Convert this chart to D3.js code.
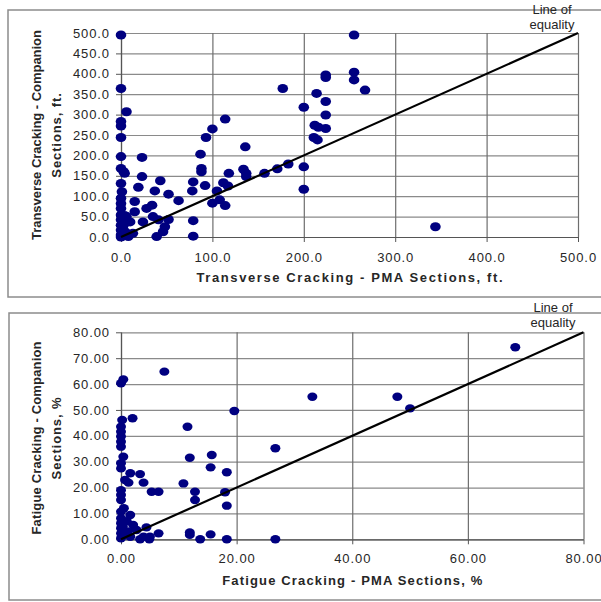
<!DOCTYPE html>
<html>
<head>
<meta charset="utf-8">
<script src="https://cdn.jsdelivr.net/npm/d3@7/dist/d3.min.js"></script>
<style>
  body { margin: 0; background: #fff; }
  text { font-family: "Liberation Sans", Arial, sans-serif; }
</style>
</head>
<body>
<svg id="chart" width="601" height="602"></svg>
<script>
// Transverse cracking (ft.): PMA section vs. companion section
const transversePMA = [
  0, 0, 6, 0, 0, 0, 0, 0, 4, 3,
  0, 1, 0, 0, 0, 0, 0, 0, 0, 0,
  0, 6, 10, 5, 8, 13, 2, 3, 4, 15,
  15, 19, 23, 23, 24, 28, 34, 35, 37, 43,
  41, 52, 52, 48, 46, 39, 63, 79, 78, 79,
  79, 87, 88, 88, 92, 93, 100, 114, 100, 108,
  114, 105, 112, 117, 118, 136, 134, 137, 137, 157,
  171, 183, 177, 200, 200, 200, 214, 212, 216, 211,
  215, 224, 224, 224, 224, 224, 255, 255, 255, 267,
  344
];
const transverseCompanion = [
  495, 364, 307, 283, 272, 244, 197, 168, 156, 160,
  131, 111, 95, 82, 70, 54, 42, 29, 17, 5,
  0, 50, 37, 12, 1, 9, 20, 30, 53, 62,
  87, 122, 195, 148, 37, 70, 78, 50, 113, 138,
  42, 43, 105, 25, 13, 1, 89, 135, 113, 40,
  2, 203, 168, 160, 126, 244, 265, 289, 83, 91,
  77, 113, 133, 125, 156, 221, 166, 156, 148, 156,
  167, 179, 364, 318, 172, 117, 352, 274, 269, 244,
  238, 397, 391, 332, 299, 266, 495, 404, 385, 360,
  25
];
const transverseXTicks = [0, 100, 200, 300, 400, 500];
const transverseYTicks = [0, 50, 100, 150, 200, 250, 300, 350, 400, 450, 500];

// Fatigue cracking (%): PMA section vs. companion section
const fatiguePMA = [
  0, 0.4, 7.5, 19.6, 0.2, 2.0, 0, 0, 0, 0,
  0, 11.5, 0.4, 0, 0, 1.6, 3.3, 0.7, 1.3, 3.9,
  10.8, 0, 5.3, 6.5, 0, 0, 12.8, 12.8, 18.0, 18.3,
  11.9, 15.7, 15.5, 18.3, 26.7, 33.1, 47.8, 50.0, 68.2, 0,
  1.6, 0, 0, 0, 0, 0, 2.1, 2.7, 4.4, 1.6,
  3.9, 5.0, 6.5, 1.2, 3.3, 4.9, 11.9, 11.9, 13.7, 15.5,
  18.3, 26.7, 0.5, 1.0, 0.8, 0.3
];
const fatigueCompanion = [
  60.3, 61.8, 64.8, 49.6, 46.1, 46.8, 43.5, 41.6, 39.7, 37.7,
  35.8, 43.5, 31.9, 29.4, 27.4, 25.5, 25.2, 22.9, 21.9, 21.9,
  21.6, 19.0, 18.4, 18.4, 17.1, 15.2, 18.4, 15.2, 18.2, 13.0,
  31.5, 32.6, 27.8, 25.9, 35.2, 55.1, 55.1, 50.6, 74.2, 10.7,
  9.4, 8.1, 6.2, 4.3, 2.3, 0.4, 5.5, 3.6, 4.6, 1.0,
  1.0, 1.0, 2.3, 3.0, 0, 0, 2.6, 1.7, 0, 1.9,
  0, 0, 12.0, 7.0, 2.0, 5.0
];
const fatigueXTicks = [0, 20, 40, 60, 80];
const fatigueYTicks = [0, 10, 20, 30, 40, 50, 60, 70, 80];

const panels = [
  {
    xs: transversePMA, ys: transverseCompanion,
    xTicks: transverseXTicks, yTicks: transverseYTicks,
    max: 500, fmt: d3.format(".1f"),
    frame: { x: 8, y: 10, w: 600, h: 287 },
    plot: { left: 121, right: 578, top: 33, bottom: 237 },
    xTitle: "Transverse Cracking - PMA Sections, ft.",
    yTitle: ["Transverse Cracking - Companion", "Sections, ft."],
    xTickBaseline: 262, xTitleBaseline: 282, xTitleLen: 306,
    yTitleCenter: 135, yTitleLen: 210,
    noteX: 552, noteBaselines: [14, 29],
    dot: { rx: 5.3, ry: 4.5 }
  },
  {
    xs: fatiguePMA, ys: fatigueCompanion,
    xTicks: fatigueXTicks, yTicks: fatigueYTicks,
    max: 80, fmt: d3.format(".2f"),
    frame: { x: 9, y: 313, w: 600, h: 287 },
    plot: { left: 121, right: 583.5, top: 332.3, bottom: 539.3 },
    xTitle: "Fatigue Cracking - PMA Sections, %",
    yTitle: ["Fatigue Cracking - Companion", "Sections, %"],
    xTickBaseline: 563, xTitleBaseline: 585, xTitleLen: 260,
    yTitleCenter: 438, yTitleLen: 193,
    noteX: 553, noteBaselines: [312, 327],
    dot: { rx: 5, ry: 4.2 }
  }
];

const svg = d3.select("#chart");
const textColor = "#262626";

panels.forEach(p => {
  const g = svg.append("g");

  // outer chart frame
  g.append("rect")
    .attr("x", p.frame.x).attr("y", p.frame.y)
    .attr("width", p.frame.w).attr("height", p.frame.h)
    .attr("fill", "none").attr("stroke", "#8c8c8c").attr("stroke-width", 1.5);

  const x = d3.scaleLinear().domain([0, p.max]).range([p.plot.left, p.plot.right]);
  const y = d3.scaleLinear().domain([0, p.max]).range([p.plot.bottom, p.plot.top]);
  const w = p.plot.right - p.plot.left;
  const h = p.plot.bottom - p.plot.top;

  // horizontal gridlines
  g.append("g")
    .attr("transform", `translate(${p.plot.left},0)`)
    .call(d3.axisLeft(y).tickValues(p.yTicks).tickSize(-w).tickFormat(""))
    .call(s => s.select(".domain").remove())
    .call(s => s.selectAll("line").attr("stroke", "#8a8a8a").attr("stroke-width", 1.2));

  // vertical gridlines
  g.append("g")
    .attr("transform", `translate(0,${p.plot.bottom})`)
    .call(d3.axisBottom(x).tickValues(p.xTicks).tickSize(-h).tickFormat(""))
    .call(s => s.select(".domain").remove())
    .call(s => s.selectAll("line").attr("stroke", "#6e6e6e").attr("stroke-width", 1.2));

  // y axis
  const yAxis = g.append("g")
    .attr("transform", `translate(${p.plot.left},0)`)
    .call(d3.axisLeft(y).tickValues(p.yTicks).tickSize(5).tickSizeOuter(0).tickPadding(6).tickFormat(p.fmt));
  yAxis.select(".domain").attr("stroke", "#555").attr("stroke-width", 1.2);
  yAxis.selectAll("line").attr("stroke", "#555");
  yAxis.selectAll("text")
    .attr("fill", textColor).style("font-size", "13px").style("letter-spacing", "0.9px");

  // x axis
  const xAxis = g.append("g")
    .attr("transform", `translate(0,${p.plot.bottom})`)
    .call(d3.axisBottom(x).tickValues(p.xTicks).tickSize(5).tickSizeOuter(0).tickFormat(p.fmt));
  xAxis.select(".domain").attr("stroke", "#555").attr("stroke-width", 1.2);
  xAxis.selectAll("line").attr("stroke", "#555");
  xAxis.selectAll("text")
    .attr("y", p.xTickBaseline - p.plot.bottom).attr("dy", null)
    .attr("fill", textColor).style("font-size", "13px").style("letter-spacing", "0.9px");

  // data points
  g.append("g").selectAll("ellipse")
    .data(d3.range(p.xs.length))
    .join("ellipse")
    .attr("cx", i => x(p.xs[i]))
    .attr("cy", i => y(p.ys[i]))
    .attr("rx", p.dot.rx).attr("ry", p.dot.ry)
    .attr("fill", "#000080");

  // line of equality
  g.append("line")
    .attr("x1", x(0)).attr("y1", y(0))
    .attr("x2", x(p.max)).attr("y2", y(p.max))
    .attr("stroke", "#000").attr("stroke-width", 2.2);

  g.append("g").selectAll("text")
    .data(["Line of", "equality"])
    .join("text")
    .attr("x", p.noteX)
    .attr("y", (d, i) => p.noteBaselines[i])
    .attr("text-anchor", "middle")
    .attr("fill", textColor)
    .style("font-size", "13px")
    .text(d => d);

  // x axis title
  g.append("text")
    .attr("x", (p.plot.left + p.plot.right) / 2)
    .attr("y", p.xTitleBaseline)
    .attr("text-anchor", "middle")
    .attr("textLength", p.xTitleLen).attr("lengthAdjust", "spacing")
    .attr("fill", textColor)
    .style("font-size", "13px").style("font-weight", "bold")
    .text(p.xTitle);

  // y axis title, two rotated lines
  const yt = g.append("text")
    .attr("transform", `translate(41,${p.yTitleCenter}) rotate(-90)`)
    .attr("text-anchor", "middle")
    .attr("fill", textColor)
    .style("font-size", "13px").style("font-weight", "bold");
  yt.append("tspan").attr("x", 0).attr("y", 0)
    .attr("textLength", p.yTitleLen).attr("lengthAdjust", "spacing")
    .text(p.yTitle[0]);
  yt.append("tspan").attr("x", 0).attr("y", 20)
    .style("letter-spacing", "0.9px")
    .text(p.yTitle[1]);
});
</script>
</body>
</html>
